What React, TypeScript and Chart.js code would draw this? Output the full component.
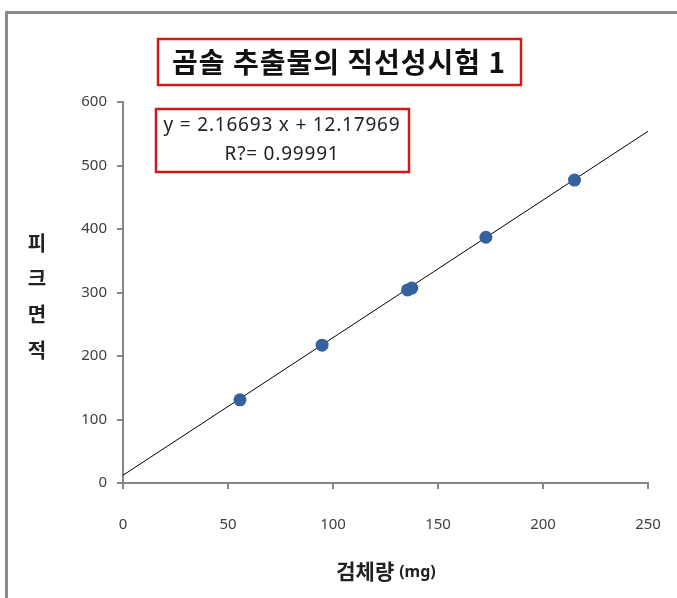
import React, { useEffect, useRef } from 'react';
import { Chart, registerables } from 'chart.js';

Chart.register(...registerables);

// ---- data ----
const sampleMg = [55.7, 94.8, 135.5, 137.5, 172.8, 215.0];
const peakArea = [131, 217, 304, 307, 387, 477];
const slope = 2.16693;
const intercept = 12.17969;
const trendRange = [0, 250];
const xTicks = [0, 50, 100, 150, 200, 250];
const yTicks = [0, 100, 200, 300, 400, 500, 600];
const titleText = '곰솔 추출물의 직선성시험 1';
const eqLine1 = 'y = 2.16693 x + 12.17969';
const eqLine2 = 'R?= 0.99991';
const yTitleChars = ['피', '크', '면', '적'];
const xTitleMain = '검체량';
const xTitleUnit = '(mg)';

const W = 677;
const H = 598;

const overlayPlugin = {
  id: 'overlay',
  beforeDraw(chart: any) {
    const ctx = chart.ctx;
    ctx.save();
    ctx.fillStyle = '#ffffff';
    ctx.fillRect(0, 0, W, H);
    ctx.strokeStyle = '#8a8a8a';
    ctx.lineWidth = 3;
    ctx.strokeRect(6.5, 12.5, 900, 900);
    ctx.restore();
  },
  afterDraw(chart: any) {
    const ctx = chart.ctx;
    ctx.save();
    // title box
    ctx.strokeStyle = '#d01a1a';
    ctx.lineWidth = 2.5;
    ctx.strokeRect(158, 39, 363, 46);
    ctx.fillStyle = '#111111';
    ctx.font = 'bold 28px "Noto Sans CJK KR"';
    ctx.letterSpacing = '1px';
    ctx.textAlign = 'center';
    ctx.textBaseline = 'middle';
    ctx.fillText(titleText, 339, 62);

    // equation box
    ctx.strokeRect(156, 109, 253, 63);
    ctx.font = '19px "Noto Sans"';
    ctx.letterSpacing = '0.8px';
    ctx.fillStyle = '#222222';
    ctx.fillText(eqLine1, 282, 126);
    ctx.fillText(eqLine2, 282, 155);
    ctx.letterSpacing = '0px';

    // y title
    ctx.font = 'bold 20px "Noto Sans CJK KR"';
    ctx.fillStyle = '#222222';
    const ys = [243, 278, 314, 350];
    yTitleChars.forEach((c, i) => ctx.fillText(c, 37, ys[i]));

    // x title
    ctx.textAlign = 'left';
    ctx.font = 'bold 21px "Noto Sans CJK KR"';
    const wMain = ctx.measureText(xTitleMain).width;
    ctx.font = 'bold 16px "Noto Sans"';
    const wUnit = ctx.measureText(xTitleUnit).width;
    const total = wMain + 5 + wUnit;
    const startX = 386 - total / 2;
    ctx.font = 'bold 21px "Noto Sans CJK KR"';
    ctx.fillText(xTitleMain, startX, 571);
    ctx.font = 'bold 16px "Noto Sans"';
    ctx.fillText(xTitleUnit, startX + wMain + 5, 572);
    ctx.restore();
  },
};

export default function App() {
  const ref = useRef<HTMLCanvasElement | null>(null);
  useEffect(() => {
    if (!ref.current) return;
    const points = sampleMg.map((x, i) => ({ x, y: peakArea[i] }));
    const trend = trendRange.map((x) => ({ x, y: slope * x + intercept }));
    const chart = new Chart(ref.current, {
      type: 'scatter',
      data: {
        datasets: [
          {
            type: 'line',
            data: trend,
            borderColor: '#000000',
            borderWidth: 1,
            pointRadius: 0,
            fill: false,
            order: 2,
          } as any,
          {
            data: points,
            backgroundColor: '#35619e',
            borderColor: '#35619e',
            pointRadius: 6.5,
            borderWidth: 0,
            order: 1,
          },
        ],
      },
      options: {
        responsive: false,
        animation: false,
        devicePixelRatio: 1,
        layout: { padding: { left: 0, top: 102, right: 29, bottom: 0 } },
        plugins: {
          legend: { display: false },
          tooltip: { enabled: false },
          title: { display: false },
        },
        scales: {
          x: {
            type: 'linear',
            min: 0,
            max: 250,
            afterBuildTicks: (s: any) => {
              s.ticks = xTicks.map((v) => ({ value: v }));
            },
            afterFit: (s: any) => {
              s.height = 115;
              s.paddingLeft = 0;
              s.paddingRight = 0;
            },
            grid: {
              drawOnChartArea: false,
              drawTicks: true,
              tickLength: 6,
              color: '#868686',
              lineWidth: 2,
            },
            border: { color: '#868686', width: 2 },
            ticks: {
              padding: 27,
              color: '#404040',
              font: { family: '"Noto Sans"', size: 15 },
            },
          },
          y: {
            type: 'linear',
            min: 0,
            max: 600,
            afterBuildTicks: (s: any) => {
              s.ticks = yTicks.map((v) => ({ value: v }));
            },
            afterFit: (s: any) => {
              s.width = 123;
              s.paddingTop = 0;
              s.paddingBottom = 0;
            },
            grid: {
              drawOnChartArea: false,
              drawTicks: true,
              tickLength: 6,
              color: '#868686',
              lineWidth: 2,
            },
            border: { color: '#868686', width: 2 },
            ticks: {
              padding: 10,
              color: '#404040',
              font: { family: '"Noto Sans"', size: 15 },
            },
          },
        },
      },
      plugins: [overlayPlugin],
    });
    return () => chart.destroy();
  }, []);
  return (
    <div style={{ position: 'fixed', left: 0, top: 0, width: W, height: H, background: '#fff' }}>
      <canvas ref={ref} width={W} height={H} style={{ width: W, height: H, display: 'block' }} />
    </div>
  );
}
